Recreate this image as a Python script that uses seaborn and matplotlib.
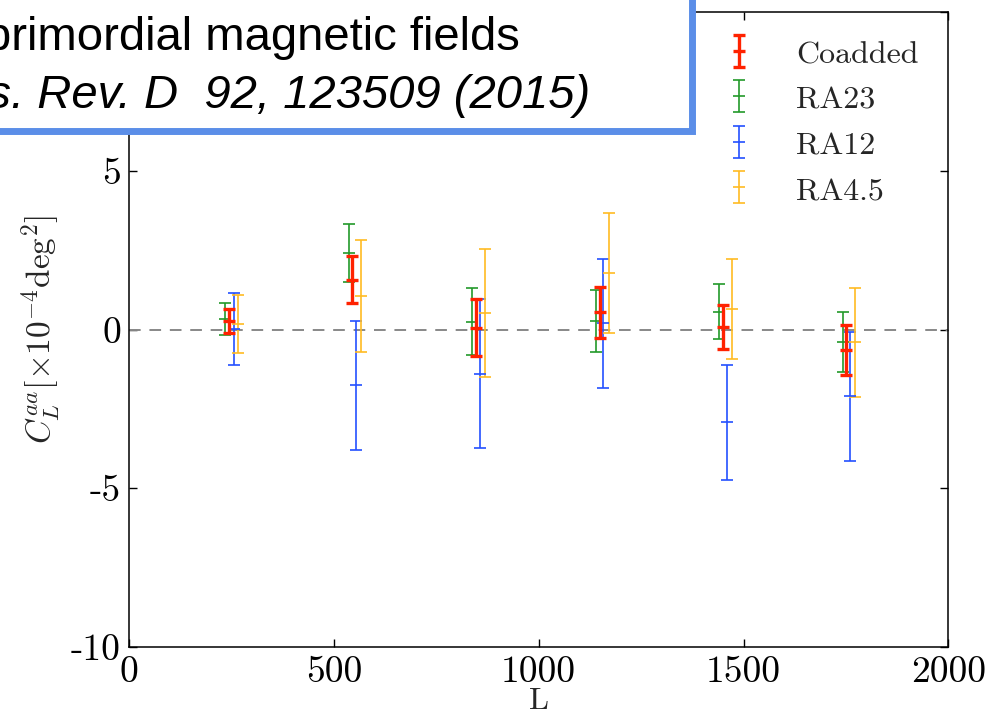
import matplotlib
matplotlib.use("Agg")
import matplotlib.pyplot as plt
import seaborn as sns
import numpy as np
import pandas as pd
from matplotlib.patches import Rectangle
from matplotlib.container import ErrorbarContainer
from matplotlib.legend_handler import HandlerErrorbar

# ---- data ----
series_names = ["Coadded", "RA23", "RA12", "RA4.5"]
L_coadded = [245, 545, 846, 1149, 1451, 1750]
L_ra23 = [234, 536, 837, 1139, 1441, 1742]
L_ra12 = [257, 554, 856, 1157, 1460, 1760]
L_ra45 = [266, 567, 869, 1171, 1473, 1773]

C_coadded = [0.28, 1.575, 0.055, 0.54, 0.09, -0.635]
E_coadded = [0.38, 0.745, 0.895, 0.81, 0.69, 0.785]
C_ra23 = [0.335, 2.41, 0.255, 0.285, 0.57, -0.38]
E_ra23 = [0.515, 0.92, 1.065, 0.975, 0.86, 0.94]
C_ra12 = [0.025, -1.76, -1.385, 0.20, -2.925, -2.10]
E_ra12 = [1.125, 2.04, 2.355, 2.04, 1.825, 2.03]
C_ra45 = [0.165, 1.06, 0.515, 1.78, 0.655, -0.405]
E_ra45 = [0.915, 1.75, 2.015, 1.90, 1.585, 1.725]

x_ticks = [0, 500, 1000, 1500, 2000]
y_ticks = [-10, -5, 0, 5, 10]
y_tick_labels = ["-10", "-5", "0", "5", ""]  # the "10" label is hidden under the citation box

frames = []
for name, L, C, E in zip(series_names,
                         [L_coadded, L_ra23, L_ra12, L_ra45],
                         [C_coadded, C_ra23, C_ra12, C_ra45],
                         [E_coadded, E_ra23, E_ra12, E_ra45]):
    frames.append(pd.DataFrame({"L": L, "C": C, "err": E, "series": name}))
df = pd.concat(frames, ignore_index=True)

# ---- style ----
sns.set_theme(style="ticks")
plt.rcParams["font.family"] = ["cmr10", "DejaVu Serif"]
plt.rcParams["mathtext.fontset"] = "cm"
plt.rcParams["axes.unicode_minus"] = False
plt.rcParams["axes.formatter.use_mathtext"] = False

colors = {"Coadded": "#ff2200", "RA23": "#22992a", "RA12": "#2450ff", "RA4.5": "#ffbb22"}
lws = {"Coadded": 2.4, "RA23": 1.2, "RA12": 1.2, "RA4.5": 1.2}

fig = plt.figure(figsize=(9.93, 7.17), dpi=100)
ax = fig.add_axes([0.130, 0.0976, 0.825, 0.8854])

ax.axhline(0, color="#888888", lw=1.4, ls=(0, (6, 4.5)), zorder=1)

handles = {}
draw_order = ["RA23", "RA12", "RA4.5", "Coadded"]
for name in draw_order:
    d = df[df["series"] == name]
    lw = lws[name]
    h = ax.errorbar(d["L"], d["C"], yerr=d["err"], fmt="_", color=colors[name],
                    ecolor=colors[name], elinewidth=lw, capsize=4.5, capthick=lw,
                    markersize=9, markeredgewidth=lw, label=name,
                    zorder=5 if name == "Coadded" else 3)
    handles[name] = h

ax.set_xlim(0, 2000)
ax.set_ylim(-10, 10)
ax.set_xticks(x_ticks)
ax.set_yticks(y_ticks)
ax.set_xticklabels([str(v) for v in x_ticks])
ax.set_yticklabels(y_tick_labels)
ax.tick_params(direction="in", top=True, right=True, length=6, width=1.0,
               labelsize=27, pad=6, colors="black")
for s in ax.spines.values():
    s.set_linewidth(1.1)
    s.set_color("black")

ax.set_xlabel("L", fontsize=23, labelpad=-1)
ax.set_ylabel(r"$C_L^{aa}[\times 10^{-4}\mathrm{deg}^2]$", fontsize=24, labelpad=6)

leg = fig.legend([handles[n] for n in series_names], series_names,
                 loc="upper left", bbox_to_anchor=(0.731, 0.947),
                 frameon=False, fontsize=23, handlelength=0.8, handleheight=1.0,
                 handletextpad=1.4, labelspacing=0.45, borderpad=0, borderaxespad=0,
                 handler_map={ErrorbarContainer: HandlerErrorbar(xerr_size=0.5)})

# ---- overlay citation box (figure pixel coords) ----
W, H = 993, 717
box = Rectangle((-20, H - 131), 712, 160, transform=None, facecolor="white",
                edgecolor="#5b8ee8", linewidth=5.0, zorder=10)
fig.patches.append(box)
fig.text(520 / W, (H - 50) / H, "primordial magnetic fields", ha="right",
         va="baseline", fontsize=34, family=["Liberation Sans"], color="black", zorder=11)
fig.text(590 / W, (H - 108) / H, "Phys. Rev. D  92, 123509 (2015)", ha="right",
         va="baseline", fontsize=34, style="italic", family=["Liberation Sans"],
         color="black", zorder=11)

fig.savefig("out.png", dpi=100)
